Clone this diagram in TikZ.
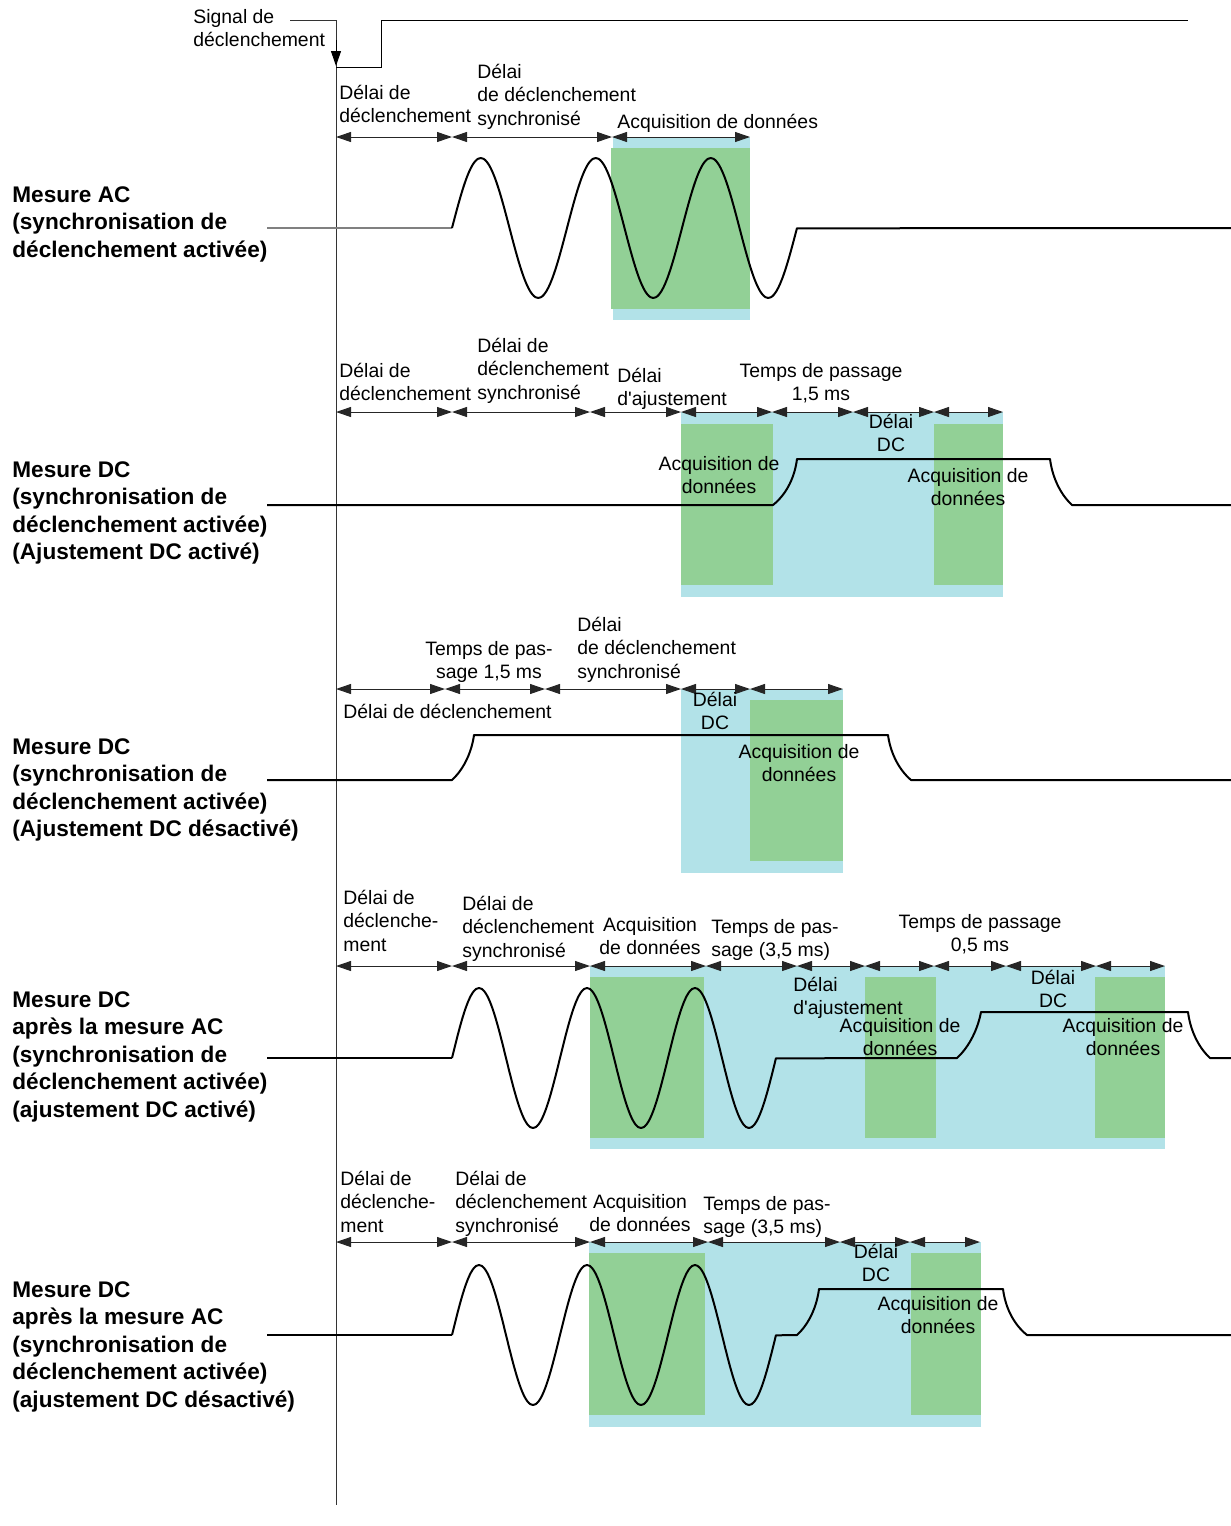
\documentclass[tikz,border=0pt]{standalone}
\usepackage{fontspec}
\setmainfont{Liberation Sans}
\usetikzlibrary{arrows.meta}
\definecolor{acqblue}{RGB}{178,226,232}
\definecolor{acqgreen}{RGB}{146,208,150}

\begin{document}
\begin{tikzpicture}[x=0.5pt, y=-0.5pt,
    every node/.style={inner sep=0pt, font=\fontsize{9.7}{11.75}\selectfont},
    lbl/.style={anchor=base west, align=left},
    clbl/.style={anchor=base, align=center},
    mode/.style={anchor=base west, align=left, font=\fontsize{11.3}{13.75}\selectfont\bfseries},
    dim/.style={{Triangle[length=7.5pt,width=5pt]}-{Triangle[length=7.5pt,width=5pt]}, line width=0.5pt, black!85},
    wave/.style={line width=1pt, line join=round},
    blu/.style={fill=acqblue},
    grn/.style={fill=acqgreen}]
    \useasboundingbox (0,0) rectangle (1231,1526);

    % trigger signal
    \draw[line width=0.5pt, black!80] (290,20) -- (336,20) -- (336,1505);
    \draw[line width=0.5pt, -{Triangle[length=7.5pt,width=5pt]}] (336,40) -- (336,66);
    \draw[line width=0.5pt] (336,67) -- (381,67) -- (381,20) -- (1188,20);
    \node (trig) [lbl] at (193,46.5) {Signal de\\déclenchement};

    % acquisition windows
    \fill[blu] (613,137) rectangle (750,320);
    \fill[grn] (611,148) rectangle (750,309);
    \fill[blu] (681,412) rectangle (1003,597);
    \fill[grn] (681,424) rectangle (773,585);
    \fill[grn] (934,424) rectangle (1003,585);
    \fill[blu] (681,689) rectangle (843,873);
    \fill[grn] (750,700) rectangle (843,861);
    \fill[blu] (590,966) rectangle (1165,1149);
    \fill[grn] (590,977) rectangle (704,1138);
    \fill[grn] (865,977) rectangle (936,1138);
    \fill[grn] (1095,977) rectangle (1165,1138);
    \fill[blu] (589,1242) rectangle (981,1427);
    \fill[grn] (589,1253) rectangle (705,1415);
    \fill[grn] (911,1253) rectangle (981,1415);

    % timing arrows
    \foreach \a/\b in {336/452,452/612,612/750}
        \draw[dim] (\a,137) -- (\b,137);
    \foreach \a/\b in {336/452,452/590,590/681,681/772,772/853,853/934,934/1003}
        \draw[dim] (\a,412) -- (\b,412);
    \foreach \a/\b in {336/445,445/545,545/681,681/750,750/843}
        \draw[dim] (\a,689) -- (\b,689);
    \foreach \a/\b in {336/452,452/590,590/706,706/797,797/865,865/934,934/1006,1006/1096,1096/1165}
        \draw[dim] (\a,966) -- (\b,966);
    \foreach \a/\b in {336/452,452/590,590/708,708/840,840/910,910/980}
        \draw[dim] (\a,1242) -- (\b,1242);

    % AC measurement
    \draw[wave, gray] (267,228) -- (452,228);
    \draw[wave] plot[domain=0:3, samples=121, smooth, variable=\t] ({452+115*\t}, {228-70*sin(360*\t)}) -- (1231,228);
    \node (ac) [mode] at (12,257) {Mesure AC\\(synchronisation de\\déclenchement activée)};
    \node (ac1) [lbl] at (339,122.5) {Délai de\\déclenchement};
    \node (ac2) [lbl] at (477,125) {Délai\\de déclenchement\\synchronisé};
    \node (ac3) [lbl] at (617,128) {Acquisition de données};

    % DC, adjustment on
    \draw[wave] (267,505) -- (773,505) .. controls (788,493) and (795,475) .. (797,459)
        -- (1050,459) .. controls (1052,475) and (1059,493) .. (1072,505) -- (1231,505);
    \node (dc) [mode] at (12,559.5) {Mesure DC\\(synchronisation de\\déclenchement activée)\\(Ajustement DC activé)};
    \node (dc1) [lbl] at (339,400.5) {Délai de\\déclenchement};
    \node (dc2) [lbl] at (477,399) {Délai de\\déclenchement\\synchronisé};
    \node (dc3) [lbl] at (617,405.5) {Délai\\d\textquotesingle ajustement};
    \node (dc4) [clbl] at (821,400.5) {Temps de passage\\1,5 ms};
    \node (dc5) [clbl] at (891,451.5) {Délai\\DC};
    \node (dc6) [clbl] at (719,493.5) {Acquisition de\\données};
    \node (dc7) [clbl] at (968,505.5) {Acquisition de\\données};

    % DC, adjustment off
    \draw[wave] (267,780) -- (452,780) .. controls (465,768) and (472,750) .. (474,735)
        -- (888,735) .. controls (890,750) and (897,768) .. (911,780) -- (1231,780);
    \node (dn) [mode] at (12,836.5) {Mesure DC\\(synchronisation de\\déclenchement activée)\\(Ajustement DC désactivé)};
    \node (dn1) [clbl] at (489,678.5) {Temps de pas-\\sage 1,5 ms};
    \node (dn2) [lbl] at (577,678) {Délai\\de déclenchement\\synchronisé};
    \node (dn3) [lbl] at (343,718) {Délai de déclenchement};
    \node (dn4) [clbl] at (715,729.5) {Délai\\DC};
    \node (dn5) [clbl] at (799,781.5) {Acquisition de\\données};

    % DC after AC, adjustment on
    \draw[wave] (267,1058) -- (452,1058);
    \draw[wave] plot[domain=0:3, samples=121, smooth, variable=\t] ({452+108*\t}, {1058-70*sin(360*\t)})
        -- (957,1058) .. controls (970,1046) and (978,1028) .. (981,1012)
        -- (1188,1012) .. controls (1190,1028) and (1197,1046) .. (1210,1058) -- (1231,1058);
    \node (ad) [mode] at (12,1117) {Mesure DC\\après la mesure AC\\(synchronisation de\\déclenchement activée)\\(ajustement DC activé)};
    \node (ad1) [lbl] at (343,951) {Délai de\\déclenche-\\ment};
    \node (ad2) [lbl] at (462,957) {Délai de\\déclenchement\\synchronisé};
    \node (ad3) [clbl] at (650,954.5) {Acquisition\\de données};
    \node (ad4) [lbl] at (711,956.5) {Temps de pas-\\sage (3,5 ms)};
    \node (ad5) [clbl] at (980,951.5) {Temps de passage\\0,5 ms};
    \node (ad6) [lbl] at (793,1014.5) {Délai\\d\textquotesingle ajustement};
    \node (ad7) [clbl] at (900,1055.5) {Acquisition de\\données};
    \node (ad8) [clbl] at (1053,1007.5) {Délai\\DC};
    \node (ad9) [clbl] at (1123,1055.5) {Acquisition de\\données};

    % DC after AC, adjustment off
    \draw[wave] (267,1335) -- (452,1335);
    \draw[wave] plot[domain=0:3, samples=121, smooth, variable=\t] ({452+108*\t}, {1335-70*sin(360*\t)})
        -- (797,1335) .. controls (810,1323) and (817,1305) .. (819,1289)
        -- (1003,1289) .. controls (1005,1305) and (1012,1323) .. (1027,1335) -- (1231,1335);
    \node (an) [mode] at (12,1407) {Mesure DC\\après la mesure AC\\(synchronisation de\\déclenchement activée)\\(ajustement DC désactivé)};
    \node (an1) [lbl] at (340,1232) {Délai de\\déclenche-\\ment};
    \node (an2) [lbl] at (455,1232) {Délai de\\déclenchement\\synchronisé};
    \node (an3) [clbl] at (640,1231.5) {Acquisition\\de données};
    \node (an4) [lbl] at (703,1233.5) {Temps de pas-\\sage (3,5 ms)};
    \node (an5) [clbl] at (876,1281.5) {Délai\\DC};
    \node (an6) [clbl] at (938,1333.5) {Acquisition de\\données};
\end{tikzpicture}
\end{document}
